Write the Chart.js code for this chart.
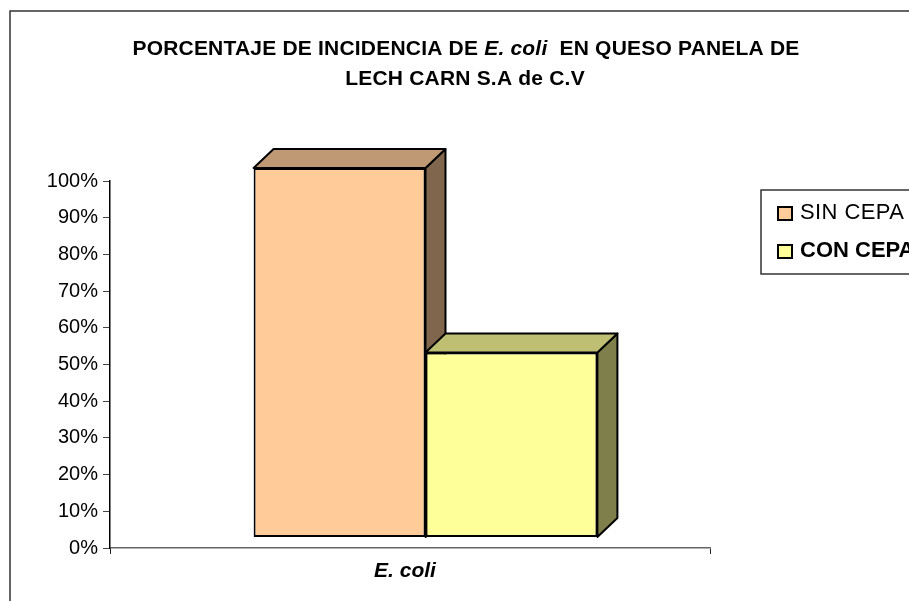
<!DOCTYPE html>
<html>
<head>
<meta charset="utf-8">
<style>html,body{margin:0;padding:0;background:#fff;overflow:hidden}canvas{display:block}</style>
<script src="https://cdn.jsdelivr.net/npm/chart.js@4"></script>
</head>
<body>
<div style="width:909px;height:601px;position:relative"><canvas id="c" width="909" height="601"></canvas></div>
<script>
const categories = ['E. coli'];
const seriesNames = ['SIN CEPA', 'CON CEPA'];
const sinCepa = [100];
const conCepa = [50];
const frontColors = ['#FFCC99', '#FFFF99'];
const topColors = ['#BF9973', '#BFBF73'];
const sideColors = ['#7F664C', '#7F7F4C'];
const titleLine1 = [['PORCENTAJE DE INCIDENCIA DE ', false], ['E. coli', true], ['  EN QUESO PANELA DE', false]];
const titleLine2 = 'LECH CARN S.A de C.V';

const FONT = '"Liberation Sans", Arial, sans-serif';
const DEPTH_X = 20, DEPTH_Y = 19, SHIFT_X = 15.5;

function poly(ctx, pts, fill) {
  ctx.beginPath();
  pts.forEach((p, i) => i ? ctx.lineTo(p[0], p[1]) : ctx.moveTo(p[0], p[1]));
  ctx.closePath();
  ctx.fillStyle = fill;
  ctx.fill();
  ctx.lineWidth = 2;
  ctx.strokeStyle = '#000';
  ctx.lineJoin = 'round';
  ctx.stroke();
}

const decor = {
  id: 'decor',
  beforeDraw(chart) {
    const ctx = chart.ctx;
    ctx.save();
    ctx.strokeStyle = '#333';
    ctx.lineWidth = 1.5;
    ctx.beginPath();
    ctx.moveTo(909, 11); ctx.lineTo(10, 11); ctx.lineTo(10, 601);
    ctx.stroke();
    ctx.restore();
  },
  beforeDatasetsDraw(chart) {
    const ctx = chart.ctx;
    ctx.save();
    ctx.translate(SHIFT_X, 0);
    chart.data.datasets.forEach((ds, i) => {
      const b = chart.getDatasetMeta(i).data[0];
      const l = b.x - b.width / 2, r = b.x + b.width / 2, t = b.y, bt = b.base;
      poly(ctx, [[r, t], [r + DEPTH_X, t - DEPTH_Y], [r + DEPTH_X, bt - DEPTH_Y], [r, bt]], sideColors[i]);
      poly(ctx, [[l, t], [l + DEPTH_X, t - DEPTH_Y], [r + DEPTH_X, t - DEPTH_Y], [r, t]], topColors[i]);
    });
  },
  afterDatasetsDraw(chart) {
    chart.ctx.restore();
  },
  afterDraw(chart) {
    const ctx = chart.ctx;
    ctx.save();
    // title
    ctx.fillStyle = '#000';
    ctx.textBaseline = 'alphabetic';
    ctx.letterSpacing = '0.2px';
    let w = 0;
    titleLine1.forEach(([s, it]) => {
      ctx.font = (it ? 'italic ' : '') + 'bold 21px ' + FONT;
      w += ctx.measureText(s).width;
    });
    let x = 466 - w / 2;
    ctx.textAlign = 'left';
    titleLine1.forEach(([s, it]) => {
      ctx.font = (it ? 'italic ' : '') + 'bold 21px ' + FONT;
      ctx.fillText(s, x, 55);
      x += ctx.measureText(s).width;
    });
    ctx.font = 'bold 21px ' + FONT;
    ctx.textAlign = 'center';
    ctx.fillText(titleLine2, 465, 85);
    ctx.letterSpacing = '0px';
    // legend
    ctx.strokeStyle = '#333';
    ctx.lineWidth = 1.5;
    ctx.beginPath();
    ctx.moveTo(909, 190); ctx.lineTo(761, 190); ctx.lineTo(761, 274); ctx.lineTo(909, 274);
    ctx.stroke();
    ctx.textAlign = 'left';
    ctx.textBaseline = 'middle';
    seriesNames.forEach((n, i) => {
      const y = i ? 251 : 213;
      ctx.fillStyle = frontColors[i];
      ctx.fillRect(778, y - 6, 14, 13);
      ctx.strokeStyle = '#000';
      ctx.lineWidth = 2;
      ctx.strokeRect(778, y - 6, 14, 13);
      ctx.fillStyle = '#000';
      ctx.font = (i ? 'bold ' : '') + '22px ' + FONT;
      ctx.letterSpacing = i ? '0px' : '0.4px';
      ctx.fillText(n, 800, y);
    });
    ctx.restore();
  }
};

new Chart(document.getElementById('c'), {
  type: 'bar',
  data: {
    labels: categories,
    datasets: [
      { label: seriesNames[0], data: sinCepa, backgroundColor: frontColors[0], borderColor: '#000', borderWidth: 2, borderSkipped: false, yAxisID: 'y1', clip: false },
      { label: seriesNames[1], data: conCepa, backgroundColor: frontColors[1], borderColor: '#000', borderWidth: 2, borderSkipped: false, yAxisID: 'y1', clip: false }
    ]
  },
  options: {
    responsive: false,
    animation: false,
    devicePixelRatio: 1,
    layout: { padding: { left: 0, right: 199, top: 181, bottom: 13 } },
    datasets: { bar: { barPercentage: 1, categoryPercentage: 0.573 } },
    plugins: { legend: { display: false }, title: { display: false }, tooltip: { enabled: false } },
    scales: {
      x: {
        afterFit: s => { s.height = 40; },
        border: { color: '#666', width: 1.5 },
        grid: { offset: true, drawOnChartArea: false, tickLength: 6, color: '#222', tickWidth: 1 },
        ticks: { color: '#000', padding: 5, labelOffset: -5, font: { family: FONT, size: 21, style: 'italic', weight: 'bold' } }
      },
      y: {
        min: 0, max: 100,
        afterFit: s => { s.width = 110; },
        border: { color: '#000', width: 1.5 },
        grid: { drawOnChartArea: false, tickLength: 7, color: '#444' },
        ticks: { stepSize: 10, color: '#000', padding: 5, callback: v => v + '%', font: { family: FONT, size: 20 } }
      },
      y1: { display: false, min: -3, max: 96.5 }
    }
  },
  plugins: [decor]
});
</script>
</body>
</html>
